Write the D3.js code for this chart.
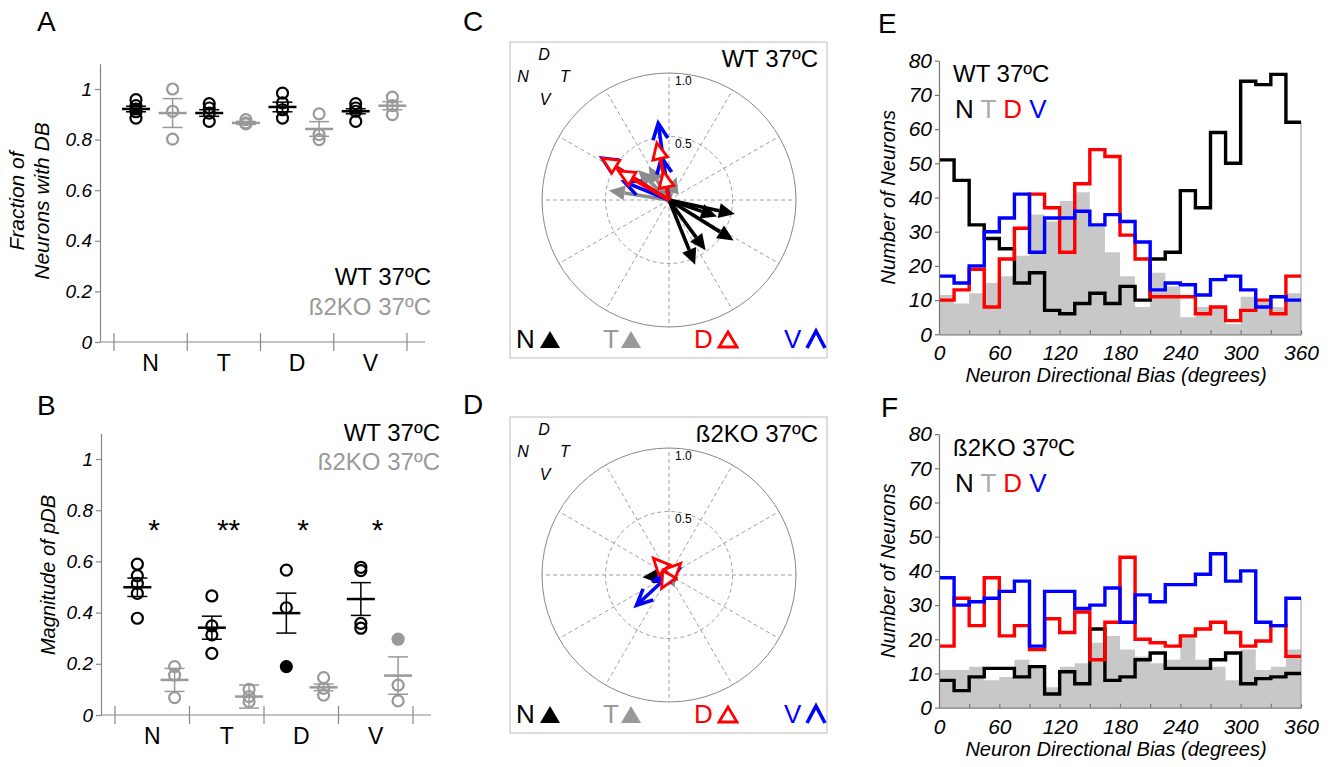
<!DOCTYPE html>
<html>
<head>
<meta charset="utf-8">
<script src="https://cdn.jsdelivr.net/npm/d3@7"></script>
<style>
  body { margin: 0; background: #fff; }
  text { font-family: "Liberation Sans", Arial, sans-serif; }
</style>
</head>
<body>
<svg id="fig" width="1337" height="767"></svg>
<script>
// ---- data ----
var groups = ["N", "T", "D", "V"];

// A: fraction of neurons with DB (per retina)
var fracWT = [[0.958, 0.934, 0.921, 0.91, 0.885], [0.942, 0.925, 0.905, 0.872], [0.984, 0.945, 0.918, 0.885], [0.942, 0.925, 0.912, 0.872]];
var fracWTMean = [0.921, 0.905, 0.929, 0.912];
var fracWTSem = [0.011, 0.013, 0.019, 0.01];
var fracKO = [[1.0, 0.912, 0.802], [0.879, 0.866, 0.862], [0.902, 0.82, 0.80], [0.968, 0.934, 0.899]];
var fracKOMean = [0.905, 0.866, 0.842, 0.934];
var fracKOSem = [0.057, 0.006, 0.029, 0.016];

// B: magnitude of pDB
var magWT = [[0.589, 0.544, 0.514, 0.475, 0.378], [0.465, 0.348, 0.313, 0.241], [0.566, 0.419, 0.189], [0.577, 0.564, 0.358, 0.339]];
var magWTMean = [0.499, 0.341, 0.398, 0.453];
var magWTSem = [0.036, 0.045, 0.078, 0.064];
var magKO = [[0.189, 0.156, 0.068], [0.10, 0.072, 0.052], [0.146, 0.104, 0.078], [0.296, 0.117, 0.055]];
var magKOMean = [0.137, 0.072, 0.108, 0.154];
var magKOSem = [0.045, 0.045, 0.013, 0.073];
var magWTFilled = [[], [], [2], []];   // index of filled points
var magKOFilled = [[], [], [], [0]];
var sigStars = ["*", "**", "*", "*"];

// C / D: pDB vectors (angle in degrees, magnitude), order N T D V
var wtAng = [[348, 341, 328, 306, 292], [171, 136, 121, 72], [148, 150, 102, 101], [148, 98, 100, 158]];
var wtMag = [[0.53, 0.40, 0.60, 0.49, 0.55], [0.48, 0.34, 0.31, 0.19], [0.62, 0.46, 0.46, 0.23], [0.62, 0.61, 0.34, 0.38]];
var koAng = [[185, 205, 195], [295, 260, 320], [133, 45, 241], [223, 30, 200]];
var koMag = [[0.21, 0.15, 0.07], [0.11, 0.07, 0.05], [0.18, 0.13, 0.12], [0.35, 0.09, 0.12]];

// E / F: histograms, 15 degree bins
var eN = [51, 45, 32, 28, 25, 15, 18, 7, 6, 9, 12, 9, 14, 10, 22, 24, 42, 37, 59, 50, 74, 73, 76, 62];
var eT = [11.5, 9, 12, 15, 17, 23, 35, 33, 39, 41.5, 31.5, 24, 17, 8, 18, 14, 5, 8, 8, 3, 11, 9.5, 8, 12];
var eD = [10, 13, 19, 8, 22, 31, 41, 37, 24, 44, 54, 52, 29, 22, 11, 11, 11, 6, 8, 4, 7, 10, 6, 17];
var eV = [17, 15, 20, 30, 34, 41, 24, 34, 34, 36, 32, 35, 33, 27, 13, 15, 14.5, 11.5, 16, 17, 13, 8, 11, 10];
var fN = [8, 5, 9, 11.5, 11.5, 9, 12, 4, 10.5, 7, 23, 8, 9, 14, 16, 11.5, 11.5, 11.5, 14, 16, 7, 8.5, 9, 10];
var fT = [11, 11, 12, 8, 9, 14, 12, 6, 12, 13, 19, 21, 17, 15, 13, 14, 21, 14, 12, 8, 17, 11, 12, 17];
var fD = [18, 32, 24, 38, 21, 24, 17, 26, 22, 28, 14, 25, 44, 20, 19, 18, 21, 23, 25, 22, 18, 19.5, 24, 15];
var fV = [38, 30, 31, 32, 34, 37, 18, 34, 34, 29, 30, 35, 25, 33, 31, 36, 36, 39, 45, 37, 40, 25, 24, 32];
var binWidth = 15;

var KO_GRAY = "#999";
var colors = {N: "#000", T: "#8c8c8c", D: "#f00", V: "#00f"};

var svg = d3.select("#fig");

function txt(x, y, s, size, opt) {
  opt = opt || {};
  var t = svg.append("text").attr("x", x).attr("y", y).attr("font-size", size).text(s)
    .attr("fill", opt.fill || "#000")
    .attr("text-anchor", opt.anchor || "start");
  if (opt.italic) t.attr("font-style", "italic");
  if (opt.rotate) t.attr("transform", "rotate(-90," + x + "," + y + ")").attr("dy", "0.35em");
  return t;
}

// panel letters
txt(37, 31, "A", 28);
txt(37, 415, "B", 28);
txt(463, 31, "C", 28);
txt(463, 414, "D", 28);
txt(878, 33, "E", 28);
txt(881, 417, "F", 28);

// ---- dot plots (A, B) ----
function dotPlot(cfg, wt, wtMean, wtSem, ko, koMean, koSem, wtFilled, koFilled) {
  var g = svg.append("g");
  var y = d3.scaleLinear().domain([0, 1.1]).range([cfg.y0, cfg.y0 - 1.1 * cfg.unit]);
  var x = d3.scaleLinear().domain([0, 8]).range([cfg.t0, cfg.t1]);

  var ya = g.append("g").attr("transform", "translate(" + cfg.x0 + ",0)")
    .call(d3.axisLeft(y).tickValues([0, 0.2, 0.4, 0.6, 0.8, 1]).tickSize(5).tickSizeOuter(0).tickPadding(3)
      .tickFormat(function(d) { return d === 0 ? "0" : d === 1 ? "1" : d.toFixed(1); }));
  ya.selectAll("path, line").attr("stroke", "#888").attr("stroke-width", 1.2);
  ya.selectAll("text").attr("font-size", 19).attr("font-style", "italic").attr("fill", "#000")
    .attr("font-family", "Liberation Sans, Arial, sans-serif");

  g.append("line").attr("x1", cfg.x0).attr("x2", cfg.x1).attr("y1", cfg.y0).attr("y2", cfg.y0)
    .attr("stroke", "#888").attr("stroke-width", 1.2);
  g.selectAll(".bt").data([0, 2, 4, 6, 8]).enter().append("line")
    .attr("x1", function(d) { return x(d); }).attr("x2", function(d) { return x(d); })
    .attr("y1", cfg.y0 - 9).attr("y2", cfg.y0 + 9).attr("stroke", "#888").attr("stroke-width", 1.2);
  g.selectAll(".cat").data(groups).enter().append("text")
    .attr("x", function(d, i) { return x(2 * i + 1); }).attr("y", cfg.y0 + 29)
    .attr("text-anchor", "middle").attr("font-size", 23).text(function(d) { return d; });

  function series(vals, means, sems, filled, off, col) {
    vals.forEach(function(pts, gi) {
      var cx = x(2 * gi + off);
      var m = means[gi], s = sems[gi];
      g.append("line").attr("x1", cx).attr("x2", cx).attr("y1", y(m - s)).attr("y2", y(m + s))
        .attr("stroke", col).attr("stroke-width", 1.5);
      [m - s, m + s].forEach(function(v) {
        g.append("line").attr("x1", cx - 10).attr("x2", cx + 10).attr("y1", y(v)).attr("y2", y(v))
          .attr("stroke", col).attr("stroke-width", 1.5);
      });
      g.append("line").attr("x1", cx - 14).attr("x2", cx + 14).attr("y1", y(m)).attr("y2", y(m))
        .attr("stroke", col).attr("stroke-width", 2.5);
      g.selectAll(null).data(pts).enter().append("circle")
        .attr("cx", cx).attr("cy", function(d) { return y(d); }).attr("r", 5.5)
        .attr("fill", function(d, i) { return filled[gi].indexOf(i) >= 0 ? col : "none"; })
        .attr("stroke", col).attr("stroke-width", 2.2);
    });
  }
  series(ko, koMean, koSem, koFilled, 1.6, KO_GRAY);
  series(wt, wtMean, wtSem, wtFilled, 0.6, "#000");
  return x;
}

dotPlot({x0: 100, x1: 425, t0: 114, t1: 407, y0: 342, unit: 253},
  fracWT, fracWTMean, fracWTSem, fracKO, fracKOMean, fracKOSem, [[], [], [], []], [[], [], [], []]);
txt(17, 201, "Fraction of", 21, {italic: true, anchor: "middle", rotate: true});
txt(42, 201, "Neurons with DB", 21, {italic: true, anchor: "middle", rotate: true});
txt(431, 285, "WT 37ºC", 24, {anchor: "end"});
txt(431, 315, "ß2KO 37ºC", 24, {anchor: "end", fill: KO_GRAY});

var xB = dotPlot({x0: 101, x1: 431, t0: 115, t1: 413, y0: 715, unit: 256},
  magWT, magWTMean, magWTSem, magKO, magKOMean, magKOSem, magWTFilled, magKOFilled);
sigStars.forEach(function(s, i) { txt(xB(2 * i + 1.05), 540, s, 30, {anchor: "middle"}); });
txt(48, 575, "Magnitude of pDB", 20, {italic: true, anchor: "middle", rotate: true});
txt(440, 441, "WT 37ºC", 24, {anchor: "end"});
txt(440, 470, "ß2KO 37ºC", 24, {anchor: "end", fill: KO_GRAY});

// ---- polar panels (C, D) ----
var rScale = d3.scaleLinear().domain([0, 1]).range([0, 127]);

function arrow(g, cx, cy, angDeg, mag, kind) {
  var a = angDeg * Math.PI / 180, len = rScale(mag);
  var ux = Math.cos(a), uy = -Math.sin(a), px = -uy, py = ux;
  var tx = cx + ux * len, ty = cy + uy * len;
  var L = 16, W = 7.5;
  var bx = tx - ux * L, by = ty - uy * L;
  var col = colors[kind];
  var shaftEnd = kind === "V" ? [tx - ux * 2, ty - uy * 2] : [bx, by];
  if (len > L || kind === "V") {
    g.append("line").attr("x1", cx).attr("y1", cy).attr("x2", shaftEnd[0]).attr("y2", shaftEnd[1])
      .attr("stroke", col).attr("stroke-width", 3.6);
  }
  var p1 = [bx + px * W, by + py * W], p2 = [bx - px * W, by - py * W];
  if (kind === "V") {
    g.append("path").attr("d", "M" + p1 + "L" + [tx, ty] + "L" + p2)
      .attr("fill", "none").attr("stroke", col).attr("stroke-width", 3.6).attr("stroke-linejoin", "miter");
  } else if (kind === "D") {
    g.append("path").attr("d", "M" + p1 + "L" + [tx, ty] + "L" + p2 + "Z")
      .attr("fill", "#fff").attr("stroke", col).attr("stroke-width", 2.8);
  } else {
    g.append("path").attr("d", "M" + p1 + "L" + [tx, ty] + "L" + p2 + "Z").attr("fill", col);
  }
}

function polarPanel(top, title, angs, mags) {
  var g = svg.append("g");
  var cx = 669, cy = top + 158;
  g.append("rect").attr("x", 510).attr("y", top).attr("width", 317).attr("height", 316)
    .attr("fill", "none").attr("stroke", "#bbb").attr("stroke-width", 1);
  d3.range(0, 360, 30).forEach(function(d) {
    var a = d * Math.PI / 180;
    g.append("line").attr("x1", cx).attr("y1", cy)
      .attr("x2", cx + rScale(1) * Math.cos(a)).attr("y2", cy - rScale(1) * Math.sin(a))
      .attr("stroke", "#888").attr("stroke-width", 0.8).attr("stroke-dasharray", "4,3");
  });
  g.append("circle").attr("cx", cx).attr("cy", cy).attr("r", rScale(0.5))
    .attr("fill", "none").attr("stroke", "#888").attr("stroke-width", 0.8).attr("stroke-dasharray", "4,3");
  g.append("circle").attr("cx", cx).attr("cy", cy).attr("r", rScale(1))
    .attr("fill", "none").attr("stroke", "#888").attr("stroke-width", 1);
  txt(cx + 6, cy - rScale(1) + 12, "1.0", 12);
  txt(cx + 6, cy - rScale(0.5) + 11, "0.5", 12);

  // compass
  txt(544, top + 18, "D", 16, {italic: true, anchor: "middle"});
  txt(523, top + 40, "N", 16, {italic: true, anchor: "middle"});
  txt(565, top + 40, "T", 16, {italic: true, anchor: "middle"});
  txt(545, top + 63, "V", 16, {italic: true, anchor: "middle"});
  txt(818, top + 25, title, 24, {anchor: "end"});

  // arrows: N, T, V, then D on top
  [0, 1, 3, 2].forEach(function(k) {
    angs[k].forEach(function(a, i) { arrow(g, cx, cy, a, mags[k][i], groups[k]); });
  });

  // legend
  var ly = top + 306;
  txt(516, ly, "N", 26);
  g.append("path").attr("d", "M540," + ly + "L560," + ly + "L550," + (ly - 17) + "Z").attr("fill", "#000");
  txt(603, ly, "T", 26, {fill: "#999"});
  g.append("path").attr("d", "M621," + ly + "L641," + ly + "L631," + (ly - 17) + "Z").attr("fill", "#999");
  txt(694, ly, "D", 26, {fill: "#f00"});
  g.append("path").attr("d", "M719," + (ly - 1) + "L737," + (ly - 1) + "L728," + (ly - 16) + "Z")
    .attr("fill", "none").attr("stroke", "#f00").attr("stroke-width", 2.8);
  txt(784, ly, "V", 26, {fill: "#00f"});
  g.append("path").attr("d", "M807," + ly + "L816," + (ly - 17) + "L825," + ly)
    .attr("fill", "none").attr("stroke", "#00f").attr("stroke-width", 3.6);
}

polarPanel(42, "WT 37ºC", wtAng, wtMag);
polarPanel(417, "ß2KO 37ºC", koAng, koMag);

// ---- histograms (E, F) ----
function histPanel(y0, title, bN, bT, bD, bV) {
  var g = svg.append("g");
  var x = d3.scaleLinear().domain([0, 360]).range([939, 1301]);
  var y = d3.scaleLinear().domain([0, 80]).range([y0, y0 - 273.6]);
  function pts(b) {
    var p = b.map(function(v, i) { return [i * binWidth, v]; });
    p.push([360, b[b.length - 1]]);
    return p;
  }
  var area = d3.area().curve(d3.curveStepAfter)
    .x(function(d) { return x(d[0]); }).y0(y(0)).y1(function(d) { return y(d[1]); });
  var line = d3.line().curve(d3.curveStepAfter)
    .x(function(d) { return x(d[0]); }).y(function(d) { return y(d[1]); });

  g.append("path").attr("d", area(pts(bT))).attr("fill", "#c8c8c8");
  var lastMax = d3.max([bN, bD, bV, bT], function(b) { return b[b.length - 1]; });
  g.append("line").attr("x1", x(360)).attr("x2", x(360)).attr("y1", y(0)).attr("y2", y(lastMax))
    .attr("stroke", "#999").attr("stroke-width", 1);
  [[bN, "#000"], [bD, "#f00"], [bV, "#00f"]].forEach(function(s) {
    g.append("path").attr("d", line(pts(s[0]))).attr("fill", "none")
      .attr("stroke", s[1]).attr("stroke-width", 3.4).attr("stroke-linejoin", "miter");
  });

  var ya = g.append("g").attr("transform", "translate(939,0)")
    .call(d3.axisLeft(y).tickValues(d3.range(0, 81, 10)).tickSize(4).tickSizeOuter(0).tickPadding(3));
  var xa = g.append("g").attr("transform", "translate(0," + y0 + ")")
    .call(d3.axisBottom(x).tickValues(d3.range(0, 361, 30)).tickSize(-4).tickSizeOuter(0).tickPadding(11)
      .tickFormat(function(d) { return d % 60 === 0 ? d : ""; }));
  [ya, xa].forEach(function(a) {
    a.selectAll("path, line").attr("stroke", "#777").attr("stroke-width", 1.2);
    a.selectAll("text").attr("font-size", 21).attr("font-style", "italic").attr("fill", "#000")
      .attr("font-family", "Liberation Sans, Arial, sans-serif");
  });

  txt(953, y0 - 252, title, 24);
  var leg = svg.append("text").attr("x", 955).attr("y", y0 - 216).attr("font-size", 26);
  [["N", "#000"], [" T", "#aaa"], [" D", "#f00"], [" V", "#00f"]].forEach(function(l) {
    leg.append("tspan").attr("fill", l[1]).text(l[0]);
  });
  leg.attr("xml:space", "preserve");

  txt(1116, y0 + 48, "Neuron Directional Bias (degrees)", 20, {italic: true, anchor: "middle"});
  txt(888, y0 - 137, "Number of Neurons", 20, {italic: true, anchor: "middle", rotate: true});
}

histPanel(334.3, "WT 37ºC", eN, eT, eD, eV);
histPanel(707.7, "ß2KO 37ºC", fN, fT, fD, fV);
</script>
</body>
</html>
